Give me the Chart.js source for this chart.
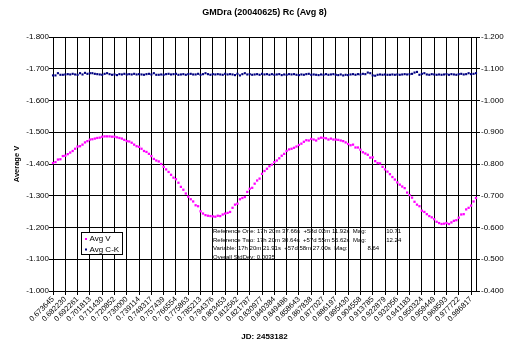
<!DOCTYPE html>
<html>
<head>
<meta charset="utf-8">
<title>GMDra (20040625) Rc (Avg 8)</title>
<script src="https://cdn.jsdelivr.net/npm/chart.js@4.4.1/dist/chart.umd.min.js"></script>
<style>
  html, body { margin: 0; padding: 0; background: #fff; }
  #wrap { width: 507px; height: 344px; }
</style>
</head>
<body>
<div id="wrap"><canvas id="myChart" width="507" height="344"></canvas></div>
<script>
// JD - 2453182, a label every 5 points
const jdTicks = [
  '0.673645', '0.682230', '0.692261', '0.701813', '0.711430', '0.720852', '0.730000',
  '0.739114', '0.748317', '0.757439', '0.766554', '0.775863', '0.785213', '0.794376',
  '0.803453', '0.812562', '0.821787', '0.830977', '0.840384', '0.849486', '0.858643',
  '0.867838', '0.877027', '0.886197', '0.895430', '0.904558', '0.913785', '0.922879',
  '0.932056', '0.941183', '0.950324', '0.959449', '0.968593', '0.977722', '0.986817'
];

// variable, left axis
const avgV = [
  -1.403, -1.406, -1.414, -1.415, -1.425, -1.426, -1.431, -1.436, -1.441, -1.448,
  -1.455, -1.456, -1.461, -1.468, -1.472, -1.477, -1.478, -1.480, -1.482, -1.483,
  -1.486, -1.487, -1.487, -1.487, -1.486, -1.486, -1.484, -1.482, -1.480, -1.476,
  -1.472, -1.471, -1.467, -1.461, -1.456, -1.454, -1.448, -1.441, -1.438, -1.432,
  -1.425, -1.416, -1.411, -1.408, -1.400, -1.391, -1.383, -1.375, -1.366, -1.357,
  -1.352, -1.341, -1.328, -1.319, -1.307, -1.297, -1.289, -1.282, -1.270, -1.267,
  -1.251, -1.244, -1.239, -1.237, -1.236, -1.235, -1.234, -1.237, -1.236, -1.241,
  -1.244, -1.246, -1.249, -1.262, -1.272, -1.275, -1.289, -1.293, -1.296, -1.312,
  -1.322, -1.325, -1.338, -1.348, -1.354, -1.369, -1.378, -1.385, -1.393, -1.398,
  -1.406, -1.411, -1.418, -1.426, -1.432, -1.441, -1.446, -1.448, -1.451, -1.455,
  -1.460, -1.464, -1.470, -1.475, -1.474, -1.479, -1.477, -1.474, -1.480, -1.483,
  -1.482, -1.481, -1.477, -1.480, -1.477, -1.477, -1.476, -1.474, -1.472, -1.468,
  -1.463, -1.459, -1.461, -1.452, -1.452, -1.445, -1.437, -1.433, -1.429, -1.420,
  -1.421, -1.409, -1.403, -1.402, -1.391, -1.383, -1.376, -1.368, -1.359, -1.351,
  -1.342, -1.335, -1.329, -1.324, -1.310, -1.302, -1.294, -1.281, -1.272, -1.267,
  -1.253, -1.249, -1.242, -1.236, -1.232, -1.226, -1.218, -1.214, -1.211, -1.212,
  -1.214, -1.211, -1.216, -1.221, -1.223, -1.231, -1.241, -1.242, -1.257, -1.262,
  -1.269, -1.282, -1.293
];

// check star, right axis
const avgCK = [
  -1.079, -1.079, -1.086, -1.081, -1.081, -1.082, -1.083, -1.082, -1.084, -1.082,
  -1.081, -1.086, -1.082, -1.087, -1.084, -1.086, -1.086, -1.084, -1.083, -1.082,
  -1.081, -1.084, -1.086, -1.083, -1.081, -1.082, -1.080, -1.083, -1.082, -1.084,
  -1.082, -1.083, -1.082, -1.084, -1.082, -1.083, -1.082, -1.081, -1.083, -1.084,
  -1.082, -1.086, -1.081, -1.081, -1.082, -1.081, -1.083, -1.084, -1.082, -1.083,
  -1.084, -1.081, -1.082, -1.083, -1.081, -1.083, -1.084, -1.082, -1.082, -1.084,
  -1.081, -1.083, -1.086, -1.083, -1.081, -1.083, -1.082, -1.083, -1.082, -1.081,
  -1.084, -1.082, -1.083, -1.082, -1.080, -1.084, -1.079, -1.083, -1.086, -1.082,
  -1.083, -1.081, -1.082, -1.083, -1.081, -1.084, -1.082, -1.083, -1.081, -1.083,
  -1.081, -1.082, -1.083, -1.080, -1.082, -1.081, -1.083, -1.082, -1.083, -1.081,
  -1.080, -1.082, -1.081, -1.083, -1.084, -1.081, -1.082, -1.081, -1.080, -1.082,
  -1.081, -1.083, -1.081, -1.082, -1.083, -1.081, -1.080, -1.082, -1.079, -1.081,
  -1.080, -1.082, -1.083, -1.081, -1.083, -1.082, -1.084, -1.083, -1.088, -1.086,
  -1.079, -1.078, -1.081, -1.082, -1.081, -1.082, -1.081, -1.081, -1.082, -1.081,
  -1.082, -1.081, -1.082, -1.083, -1.082, -1.083, -1.084, -1.088, -1.090, -1.081,
  -1.084, -1.086, -1.082, -1.081, -1.083, -1.082, -1.081, -1.082, -1.081, -1.082,
  -1.083, -1.081, -1.083, -1.082, -1.081, -1.083, -1.084, -1.082, -1.083, -1.086,
  -1.083, -1.084, -1.086
];

const notes = [
  'Reference One: 17h 20m 37.66s  +58d 02m 11.92s  Mag:            10.71',
  'Reference Two: 17h 20m 30.64s  +57d 55m 55.62s  Mag:            12.24',
  'Variable: 17h 20m 21.91s  +57d 58m 27.00s  Mag:            8.64',
  'Overall StdDev: 0.0035'
];

const FONT = '"Liberation Sans", Arial, sans-serif';
Chart.defaults.font.family = FONT;
Chart.defaults.color = '#000';

const labels = avgV.map((v, i) => (i % 5 === 0 ? jdTicks[i / 5] : ''));

// legend box and the text block sit inside the plot, like the Excel sheet
const boxesPlugin = {
  id: 'boxes',
  afterDraw(chart) {
    const ctx = chart.ctx;
    const area = chart.chartArea;
    ctx.save();

    const lx = area.left + 28, ly = area.top + 195;
    ctx.fillStyle = '#fff';
    ctx.fillRect(lx, ly, 41, 22);
    ctx.strokeStyle = '#000';
    ctx.lineWidth = 1;
    ctx.strokeRect(lx + 0.5, ly + 0.5, 41, 22);

    const items = [['Avg V', '#ff00ff'], ['Avg C-K', '#000080']];
    ctx.font = '8px ' + FONT;
    ctx.textBaseline = 'middle';
    items.forEach((it, k) => {
      const y = ly + 7 + k * 10.5;
      ctx.fillStyle = it[1];
      ctx.fillRect(lx + 4, y - 1, 2, 2);
      ctx.fillStyle = '#000';
      ctx.fillText(it[0], lx + 8.5, y);
    });

    ctx.font = '6px ' + FONT;
    notes.forEach((t, k) => {
      ctx.fillText(t, area.left + 160, area.top + 194.5 + k * 8.6);
    });
    ctx.restore();
  }
};

const ctx = document.getElementById('myChart');
new Chart(ctx, {
  type: 'line',
  data: {
    labels: labels,
    datasets: [
      {
        label: 'Avg V',
        data: avgV,
        yAxisID: 'y',
        showLine: false,
        pointStyle: 'rect',
        pointRadius: 1.6,
        pointBorderWidth: 0,
        pointBackgroundColor: '#ff00ff',
        borderColor: '#ff00ff'
      },
      {
        label: 'Avg C-K',
        data: avgCK,
        yAxisID: 'y2',
        showLine: false,
        pointStyle: 'rect',
        pointRadius: 1.5,
        pointBorderWidth: 0,
        pointBackgroundColor: '#000080',
        borderColor: '#000080'
      }
    ]
  },
  options: {
    responsive: false,
    animation: false,
    layout: { padding: 0 },
    plugins: {
      legend: { display: false },
      tooltip: { enabled: false },
      title: {
        display: true,
        text: 'GMDra (20040625) Rc (Avg 8)',
        fullSize: false,
        color: '#000',
        font: { size: 9, weight: 'bold' },
        padding: { top: 7.4, bottom: 18.8 }
      }
    },
    scales: {
      x: {
        type: 'category',
        offset: false,
        grid: { color: '#000', lineWidth: 1, tickLength: 4 },
        border: { color: '#000' },
        ticks: { autoSkip: false, minRotation: 45, maxRotation: 45, padding: 0, font: { size: 7.5 } },
        afterBuildTicks: (scale) => {
          scale.ticks = scale.ticks.filter(t => t.value % 5 === 0);
        },
        afterFit: (scale) => { scale.height = 53; },
        title: {
          display: true,
          text: 'JD: 2453182',
          font: { size: 8, weight: 'bold' },
          padding: { top: 0, bottom: 2.2 }
        }
      },
      y: {
        position: 'left',
        reverse: true,
        min: -1.8,
        max: -1.0,
        grid: { color: '#000', lineWidth: 1, tickLength: 4 },
        border: { color: '#000' },
        ticks: {
          stepSize: 0.1,
          padding: 0,
          font: { size: 8 },
          callback: (v) => v.toFixed(3)
        },
        afterFit: (scale) => { scale.width = 53; },
        title: {
          display: true,
          text: 'Average V',
          font: { size: 7.5, weight: 'bold' },
          padding: { top: 12.5, bottom: 0 }
        }
      },
      y2: {
        position: 'right',
        reverse: true,
        min: -1.2,
        max: -0.4,
        grid: { drawOnChartArea: false, color: '#000', tickLength: 4 },
        border: { color: '#000' },
        ticks: {
          stepSize: 0.1,
          padding: 1,
          font: { size: 8 },
          callback: (v) => v.toFixed(3)
        },
        afterFit: (scale) => { scale.width = 31; }
      }
    }
  },
  plugins: [boxesPlugin]
});
</script>
</body>
</html>
